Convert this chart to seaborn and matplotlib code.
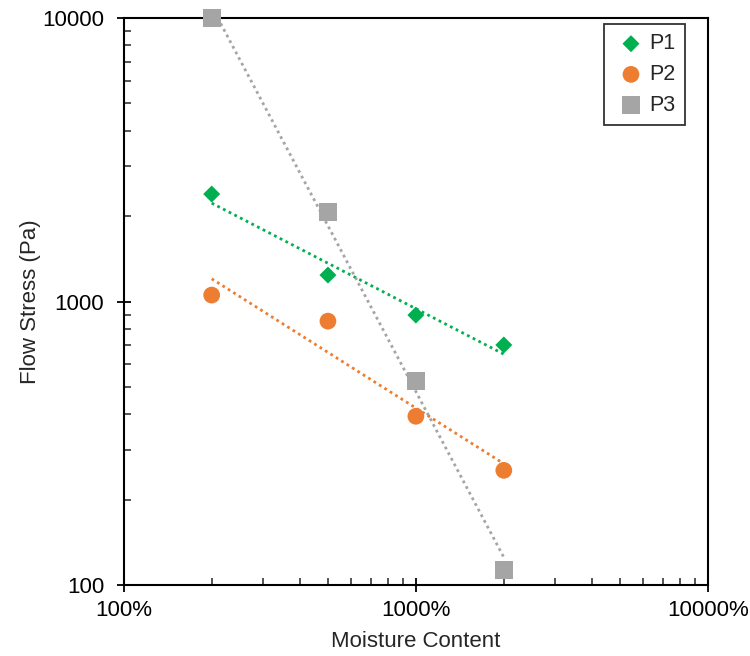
import matplotlib
matplotlib.use("Agg")
import matplotlib.pyplot as plt
import matplotlib.ticker as mticker
import numpy as np
import pandas as pd
import seaborn as sns

# moisture content as fraction (2 = 200%)
moisture = [2, 5, 10, 20]
p1 = [2394, 1240, 896, 703]
p2 = [1054, 853, 394, 254]
p3 = [10000, 2070, 524, 113]

series = ["P1", "P2", "P3"]
colores = {"P1": "#00B050", "P2": "#ED7D31", "P3": "#A5A5A5"}
marcas = {"P1": "D", "P2": "o", "P3": "s"}
tamanos = {"P1": 75, "P2": 145, "P3": 170}

df = pd.DataFrame({
    "Moisture": moisture * 3,
    "Stress": p1 + p2 + p3,
    "Serie": ["P1"] * 4 + ["P2"] * 4 + ["P3"] * 4,
})

sns.set_style("white")
plt.rcParams["font.family"] = ["Liberation Sans", "DejaVu Sans"]

fig = plt.figure(figsize=(7.5, 6.56), dpi=100)
ax = fig.add_axes([0.165, 0.108, 0.779, 0.8646])

for s in series:
    sub = df[df["Serie"] == s]
    sns.scatterplot(data=sub, x="Moisture", y="Stress", ax=ax, color=colores[s],
                    marker=marcas[s], s=tamanos[s], edgecolor="none", label=s,
                    zorder=3, clip_on=False)
    # power trendline fitted in log-log space
    k, b = np.polyfit(np.log10(sub["Moisture"]), np.log10(sub["Stress"]), 1)
    xs = np.array([min(moisture), max(moisture)])
    fit = pd.DataFrame({"x": xs, "y": 10 ** (b + k * np.log10(xs))})
    sns.lineplot(data=fit, x="x", y="y", ax=ax, color=colores[s], linestyle=(0, (1, 1.3)),
                 linewidth=2, legend=False, zorder=2)

ax.set_xscale("log")
ax.set_yscale("log")
ax.set_xlim(1, 100)
ax.set_ylim(100, 10000)
ax.xaxis.set_major_formatter(mticker.FuncFormatter(lambda v, p: f"{v*100:.0f}%"))
ax.yaxis.set_major_formatter(mticker.FuncFormatter(lambda v, p: f"{v:.0f}"))
ax.xaxis.set_minor_formatter(mticker.NullFormatter())
ax.yaxis.set_minor_formatter(mticker.NullFormatter())

ax.tick_params(which="major", direction="inout", length=10, width=1.3, labelsize=16,
               bottom=True, left=True, colors="black")
ax.tick_params(which="minor", direction="in", length=5, width=1.1, bottom=True, left=True)
ax.tick_params(axis="x", pad=6)
ax.tick_params(axis="y", pad=9)
for sp in ax.spines.values():
    sp.set_color("black")
    sp.set_linewidth(1.5)

ax.set_xlabel("Moisture Content", fontsize=16, labelpad=7)
ax.set_ylabel("Flow Stress (Pa)", fontsize=16, labelpad=1)

leg = ax.legend(loc="upper right", bbox_to_anchor=(0.961, 0.99), fontsize=15.5, frameon=True,
                fancybox=False, edgecolor="black", handletextpad=0.05, borderpad=0.45,
                labelspacing=0.45, handlelength=1.6, borderaxespad=0.0)
leg.get_frame().set_linewidth(1.3)

fig.savefig("out.png", dpi=100, facecolor="white")
